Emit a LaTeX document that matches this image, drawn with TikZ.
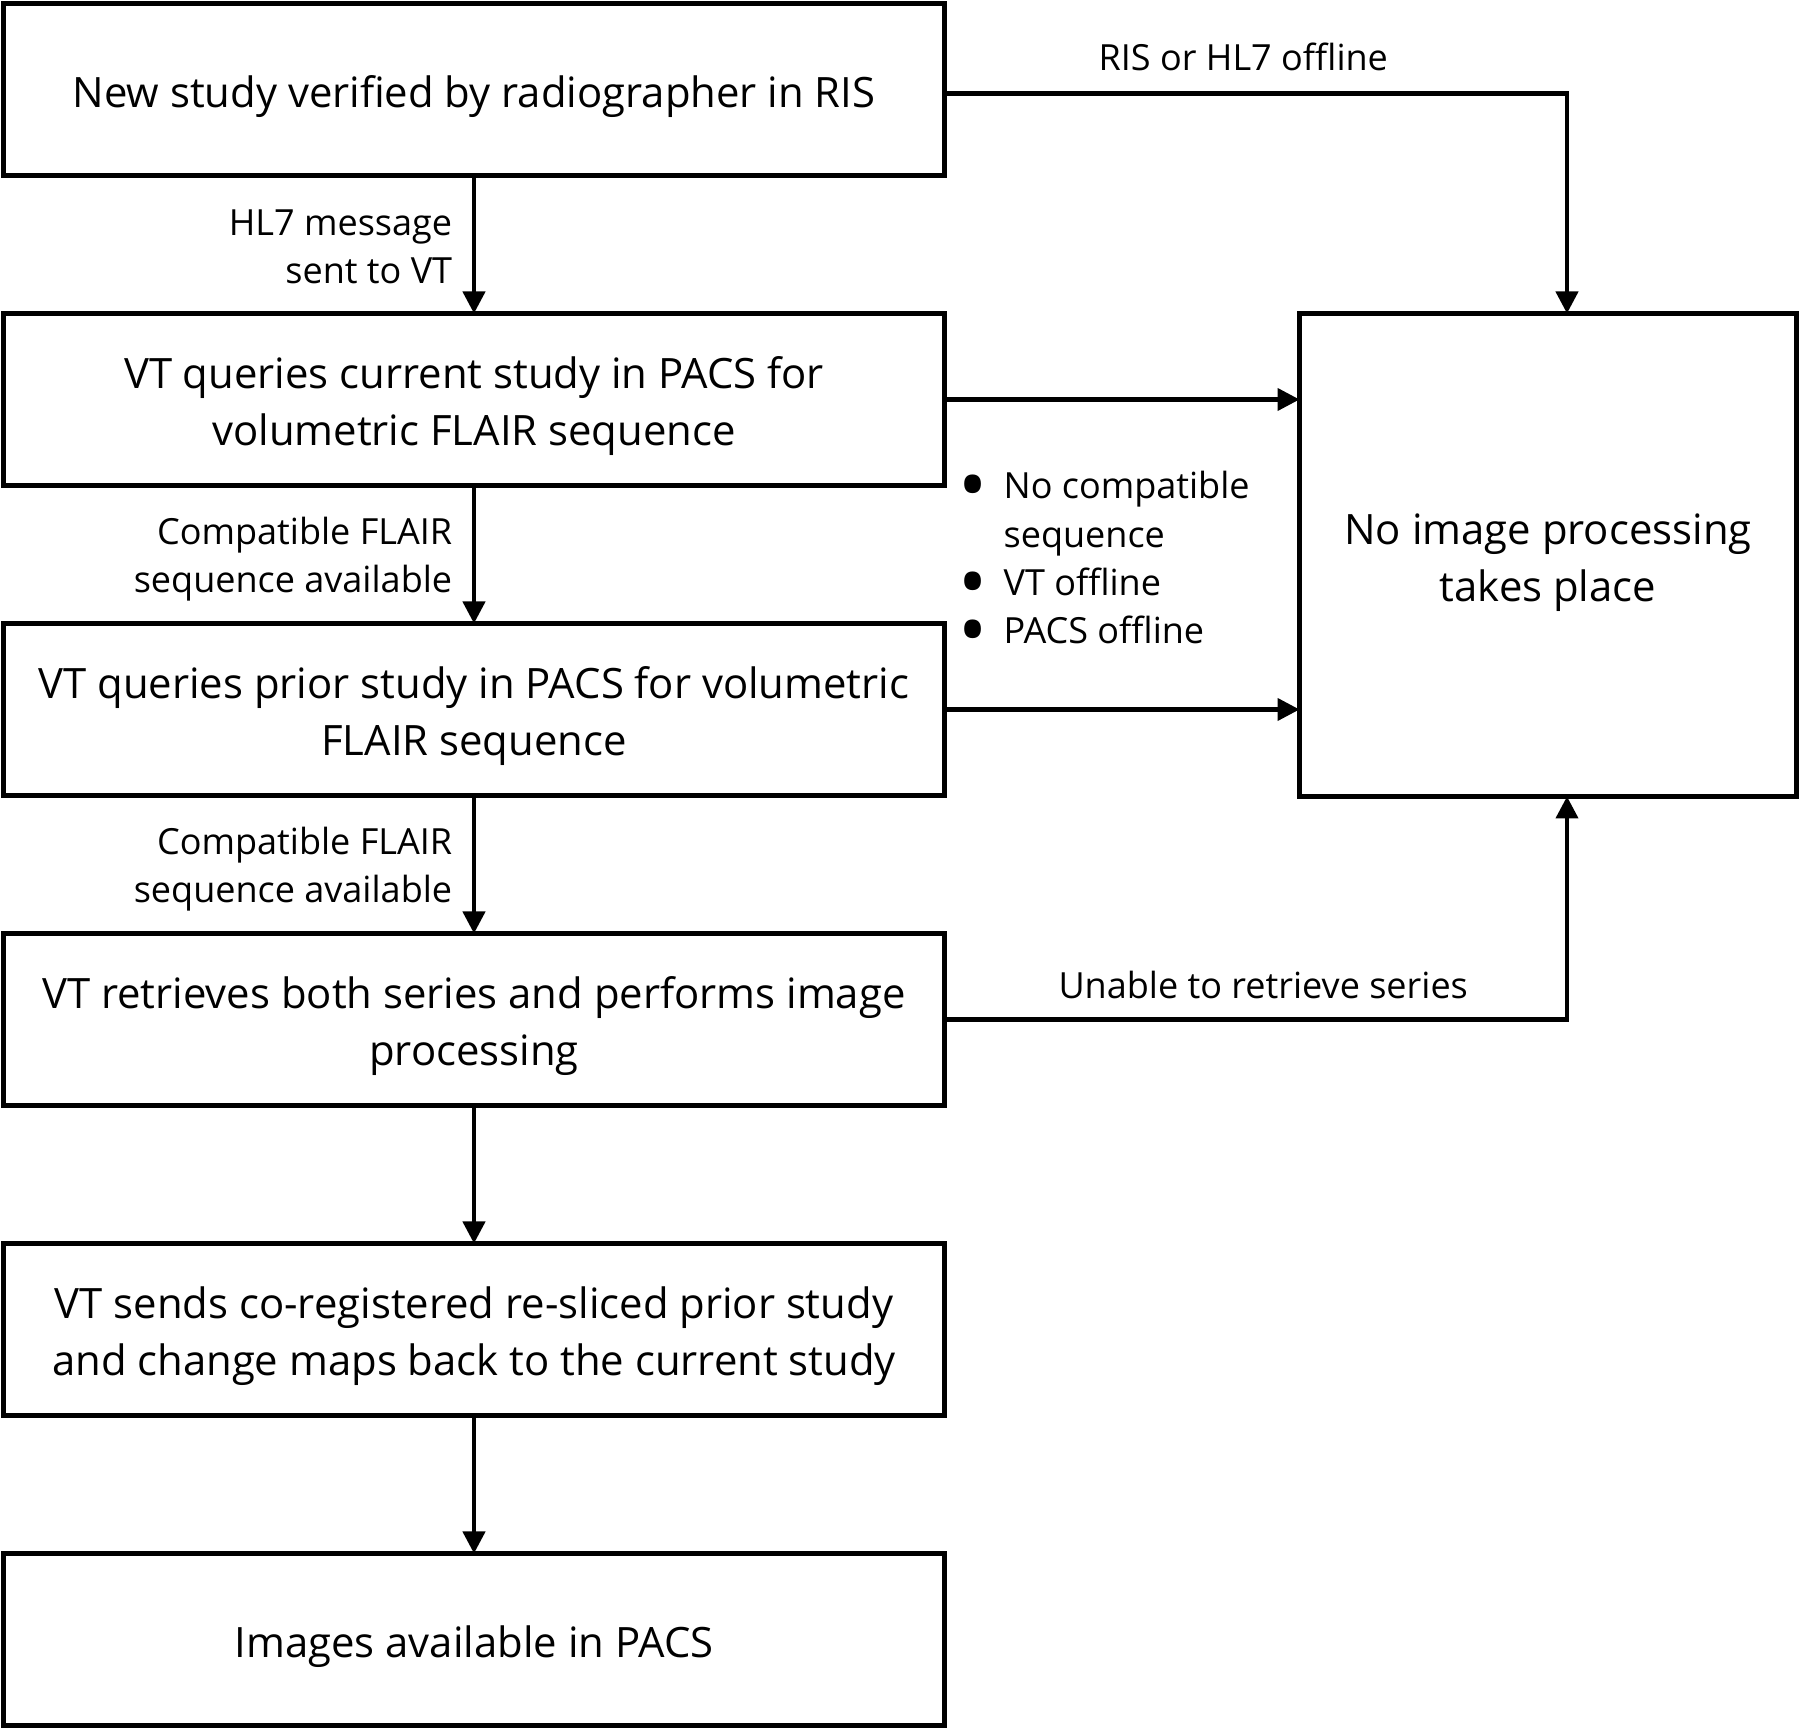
\documentclass[tikz,border=0pt]{standalone}
\usepackage{fontspec}
\setmainfont{Open Sans}
\usetikzlibrary{arrows.meta, positioning, calc}

\newcommand\bigdot{\hspace*{0.75mm}\makebox[0pt]{\raisebox{-4pt}[0pt][0pt]{\fontsize{22}{22}\selectfont •}}}

\begin{document}
\begin{tikzpicture}[
    > = {Triangle[length=2.2mm, width=2.2mm]}, % arrow head style
    node distance = 1.38cm, % distance between boxes
    line width = 1.2pt % line style
    ]

    \tikzset{
    box/.style = {draw = black, line width = 1.4pt, fill = white, outer sep = 0pt,
        minimum width = 9.41cm, minimum height = 1.72cm,
        text width = 9.1cm, align = flush center,
        font = \fontsize{11.9}{16.3}\selectfont,
        execute at begin node = {\rule{0pt}{13pt}}},
    lbl/.style = {align = right, font = \fontsize{10.25}{13.7}\selectfont}
    }

    \useasboundingbox (0,0) rectangle (18,-17.30);

    \node[box] (verify) at (4.74,-0.895) {New study verified by radiographer in RIS};
    \node[box] (current) [below=of verify] {VT queries current study in PACS for\\volumetric FLAIR sequence};
    \node[box] (prior) [below=of current] {VT queries prior study in PACS for volumetric\\FLAIR sequence};
    \node[box] (retrieve) [below=of prior] {VT retrieves both series and performs image\\processing};
    \node[box] (sends) [below=of retrieve] {VT sends co-registered re-sliced prior study\\and change maps back to the current study};
    \node[box] (avail) [below=of sends] {Images available in PACS};

    \node[box, minimum width=4.97cm, minimum height=4.83cm, text width=4.6cm] (none) at (15.48,-5.55) {No image processing\\takes place};

    % reasons for stopping
    \node[lbl, anchor=west, align=left, inner sep=0pt] (why) at (9.63,-5.615) {%
      \begin{tabular}{@{}p{3.85mm}@{}l@{}}
      \bigdot & No compatible\\
              & sequence\\
      \bigdot & VT offline\\
      \bigdot & PACS offline
      \end{tabular}};

    \path[->] (verify) edge node[lbl, left=0.8mm, yshift=-0.25mm] {HL7 message\\sent to VT} (current);
    \path[->] (current) edge node[lbl, left=0.8mm, yshift=-0.45mm] {Compatible FLAIR\\sequence available} (prior);
    \path[->] (prior) edge node[lbl, left=0.8mm, yshift=-0.45mm] {Compatible FLAIR\\sequence available} (retrieve);
    \path[->] (retrieve) edge (sends);
    \path[->] (sends) edge (avail);

    \draw[->] ([yshift=-0.4mm]verify.east) -| node[lbl, pos=0.24, above=0.85mm] {RIS or HL7 offline} ([xshift=1.9mm]none.north);
    \draw[->] (current.east) -- (current.east -| none.west);
    \draw[->] (prior.east) -- (prior.east -| none.west);
    \draw[->] (retrieve) -| node[lbl, pos=0.256, above=0.7mm] {Unable to retrieve series} ([xshift=1.9mm]none.south);

\end{tikzpicture}
\end{document}
